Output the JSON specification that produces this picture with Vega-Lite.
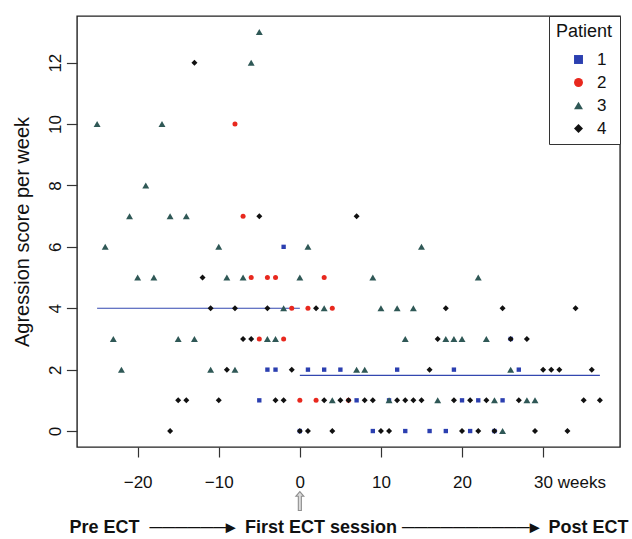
{
  "$schema": "https://vega.github.io/schema/vega-lite/v6.json",
  "width": 543,
  "height": 431,
  "autosize": "none",
  "padding": {"left": 77, "top": 16, "right": 12, "bottom": 92},
  "config": {
    "view": {"stroke": "#222222", "strokeWidth": 1.4},
    "font": "Liberation Sans",
    "axis": {"grid": false, "domain": false, "tickColor": "#333333", "tickWidth": 1.2, "labelColor": "#111111", "titleColor": "#111111", "labelFont": "Liberation Sans", "titleFont": "Liberation Sans"}
  },
  "datasets": {
    "scores": [
      {"patient": 1, "week": -5, "score": 1}, {"patient": 1, "week": -4, "score": 2}, {"patient": 1, "week": -3, "score": 2}, {"patient": 1, "week": -2, "score": 6},
      {"patient": 1, "week": 0, "score": 0}, {"patient": 1, "week": 1, "score": 2}, {"patient": 1, "week": 3, "score": 2}, {"patient": 1, "week": 5, "score": 2},
      {"patient": 1, "week": 7, "score": 1}, {"patient": 1, "week": 9, "score": 0}, {"patient": 1, "week": 11, "score": 1}, {"patient": 1, "week": 12, "score": 2},
      {"patient": 1, "week": 13, "score": 0}, {"patient": 1, "week": 16, "score": 0}, {"patient": 1, "week": 18, "score": 0}, {"patient": 1, "week": 19, "score": 2},
      {"patient": 1, "week": 20, "score": 1}, {"patient": 1, "week": 21, "score": 0}, {"patient": 1, "week": 22, "score": 1}, {"patient": 1, "week": 24, "score": 0},
      {"patient": 1, "week": 25, "score": 1}, {"patient": 1, "week": 26, "score": 3}, {"patient": 1, "week": 27, "score": 2},
      {"patient": 2, "week": -8, "score": 10}, {"patient": 2, "week": -7, "score": 7}, {"patient": 2, "week": -6, "score": 5}, {"patient": 2, "week": -5, "score": 3},
      {"patient": 2, "week": -4, "score": 5}, {"patient": 2, "week": -3, "score": 5}, {"patient": 2, "week": -2, "score": 3}, {"patient": 2, "week": -1, "score": 4},
      {"patient": 2, "week": 0, "score": 1}, {"patient": 2, "week": 1, "score": 4}, {"patient": 2, "week": 2, "score": 1}, {"patient": 2, "week": 3, "score": 5},
      {"patient": 2, "week": 4, "score": 4}, {"patient": 2, "week": 6, "score": 1},
      {"patient": 3, "week": -25, "score": 10}, {"patient": 3, "week": -24, "score": 6}, {"patient": 3, "week": -23, "score": 3}, {"patient": 3, "week": -22, "score": 2},
      {"patient": 3, "week": -21, "score": 7}, {"patient": 3, "week": -20, "score": 5}, {"patient": 3, "week": -19, "score": 8}, {"patient": 3, "week": -18, "score": 5},
      {"patient": 3, "week": -17, "score": 10}, {"patient": 3, "week": -16, "score": 7}, {"patient": 3, "week": -15, "score": 3}, {"patient": 3, "week": -14, "score": 7},
      {"patient": 3, "week": -13, "score": 3}, {"patient": 3, "week": -11, "score": 2}, {"patient": 3, "week": -10, "score": 6}, {"patient": 3, "week": -9, "score": 5},
      {"patient": 3, "week": -8, "score": 2}, {"patient": 3, "week": -7, "score": 5}, {"patient": 3, "week": -6, "score": 12}, {"patient": 3, "week": -5, "score": 13},
      {"patient": 3, "week": -4, "score": 3}, {"patient": 3, "week": -3, "score": 3}, {"patient": 3, "week": -2, "score": 4}, {"patient": 3, "week": 0, "score": 5},
      {"patient": 3, "week": 1, "score": 6}, {"patient": 3, "week": 3, "score": 4}, {"patient": 3, "week": 4, "score": 1}, {"patient": 3, "week": 7, "score": 2},
      {"patient": 3, "week": 8, "score": 2}, {"patient": 3, "week": 9, "score": 5}, {"patient": 3, "week": 10, "score": 4}, {"patient": 3, "week": 11, "score": 1},
      {"patient": 3, "week": 12, "score": 4}, {"patient": 3, "week": 13, "score": 3}, {"patient": 3, "week": 14, "score": 4}, {"patient": 3, "week": 15, "score": 6},
      {"patient": 3, "week": 17, "score": 1}, {"patient": 3, "week": 18, "score": 3}, {"patient": 3, "week": 19, "score": 3}, {"patient": 3, "week": 20, "score": 3},
      {"patient": 3, "week": 22, "score": 5}, {"patient": 3, "week": 23, "score": 3}, {"patient": 3, "week": 24, "score": 1}, {"patient": 3, "week": 25, "score": 0},
      {"patient": 3, "week": 26, "score": 2}, {"patient": 3, "week": 28, "score": 1}, {"patient": 3, "week": 29, "score": 1},
      {"patient": 4, "week": -16, "score": 0}, {"patient": 4, "week": -15, "score": 1}, {"patient": 4, "week": -14, "score": 1}, {"patient": 4, "week": -13, "score": 12},
      {"patient": 4, "week": -12, "score": 5}, {"patient": 4, "week": -11, "score": 4}, {"patient": 4, "week": -10, "score": 1}, {"patient": 4, "week": -9, "score": 2},
      {"patient": 4, "week": -8, "score": 4}, {"patient": 4, "week": -7, "score": 3}, {"patient": 4, "week": -6, "score": 3}, {"patient": 4, "week": -5, "score": 7},
      {"patient": 4, "week": -4, "score": 4}, {"patient": 4, "week": -3, "score": 1}, {"patient": 4, "week": -2, "score": 1}, {"patient": 4, "week": -1, "score": 2},
      {"patient": 4, "week": 0, "score": 0}, {"patient": 4, "week": 1, "score": 0}, {"patient": 4, "week": 2, "score": 4}, {"patient": 4, "week": 3, "score": 1},
      {"patient": 4, "week": 4, "score": 0}, {"patient": 4, "week": 5, "score": 1}, {"patient": 4, "week": 6, "score": 1}, {"patient": 4, "week": 7, "score": 7},
      {"patient": 4, "week": 8, "score": 1}, {"patient": 4, "week": 9, "score": 1}, {"patient": 4, "week": 10, "score": 0}, {"patient": 4, "week": 11, "score": 0},
      {"patient": 4, "week": 12, "score": 1}, {"patient": 4, "week": 13, "score": 1}, {"patient": 4, "week": 14, "score": 1}, {"patient": 4, "week": 15, "score": 1},
      {"patient": 4, "week": 16, "score": 2}, {"patient": 4, "week": 17, "score": 3}, {"patient": 4, "week": 18, "score": 4}, {"patient": 4, "week": 19, "score": 1},
      {"patient": 4, "week": 20, "score": 0}, {"patient": 4, "week": 21, "score": 1}, {"patient": 4, "week": 22, "score": 0}, {"patient": 4, "week": 23, "score": 1},
      {"patient": 4, "week": 24, "score": 0}, {"patient": 4, "week": 25, "score": 4}, {"patient": 4, "week": 26, "score": 3}, {"patient": 4, "week": 27, "score": 1},
      {"patient": 4, "week": 28, "score": 3}, {"patient": 4, "week": 29, "score": 0}, {"patient": 4, "week": 30, "score": 2}, {"patient": 4, "week": 31, "score": 2},
      {"patient": 4, "week": 32, "score": 2}, {"patient": 4, "week": 33, "score": 0}, {"patient": 4, "week": 34, "score": 4}, {"patient": 4, "week": 35, "score": 1},
      {"patient": 4, "week": 36, "score": 2}, {"patient": 4, "week": 37, "score": 1}
    ],
    "means": [
      {"period": "Pre ECT", "start": -25, "end": 0, "mean": 4.0},
      {"period": "Post ECT", "start": 0, "end": 37, "mean": 1.81}
    ],
    "events": [
      {"event": "First ECT session", "week": 0}
    ]
  },
  "layer": [
    {
      "data": {"name": "means"},
      "mark": {"type": "rule", "color": "#3347b0", "strokeWidth": 1.2},
      "encoding": {
        "x": {"field": "start", "type": "quantitative", "scale": {"domain": [-27.48, 39.48], "nice": false, "zero": false}},
        "x2": {"field": "end"},
        "y": {"field": "mean", "type": "quantitative", "scale": {"domain": [-0.52, 13.52], "nice": false, "zero": false}}
      }
    },
    {
      "data": {"name": "scores"},
      "mark": {"type": "point", "filled": true, "opacity": 1},
      "encoding": {
        "x": {
          "field": "week", "type": "quantitative",
          "scale": {"domain": [-27.48, 39.48], "nice": false, "zero": false},
          "axis": {
            "values": [-20, -10, 0, 10, 20, 30],
            "tickSize": 10,
            "labelFontSize": 17,
            "labelPadding": 17,
            "labelFlush": false,
            "labelExpr": "datum.value == 30 ? '30 weeks' : datum.label",
            "labelAlign": {"condition": {"test": "datum.value == 30", "value": "left"}, "value": "center"},
            "labelOffset": {"condition": {"test": "datum.value == 30", "value": -9.5}, "value": 0},
            "title": "Pre ECT\u00a0 \u2500\u2500\u2500\u2500\u2500\u2500\u25b8\u00a0 First ECT session \u2500\u2500\u2500\u2500\u2500\u2500\u2500\u2500\u2500\u2500\u25b8\u00a0 Post ECT",
            "titleFontSize": 18,
            "titleFontWeight": "bold",
            "titlePadding": 28
          }
        },
        "y": {
          "field": "score", "type": "quantitative",
          "scale": {"domain": [-0.52, 13.52], "nice": false, "zero": false},
          "axis": {
            "values": [0, 2, 4, 6, 8, 10, 12],
            "tickSize": 10.6,
            "labelFontSize": 17,
            "labelAngle": -90,
            "labelAlign": "center",
            "labelBaseline": "alphabetic",
            "labelPadding": 6,
            "title": "Agression score per week",
            "titleFontSize": 20,
            "titleFontWeight": "normal",
            "titlePadding": 14
          }
        },
        "color": {
          "field": "patient", "type": "nominal",
          "scale": {"domain": [1, 2, 3, 4], "range": ["#2b3fb0", "#e8281e", "#2f5856", "#111111"]},
          "legend": {
            "orient": "top-right", "offset": 0, "title": "Patient",
            "titleFontSize": 18, "titleFontWeight": "normal", "titleColor": "#111111",
            "labelFontSize": 17, "labelColor": "#111111",
            "symbolSize": 80, "symbolOffset": 14, "labelOffset": 10,
            "padding": 7, "rowPadding": 5, "titlePadding": 10,
            "strokeColor": "#333333", "fillColor": "white"
          }
        },
        "shape": {
          "field": "patient", "type": "nominal",
          "scale": {"domain": [1, 2, 3, 4], "range": ["square", "circle", "triangle-up", "diamond"]}
        },
        "size": {
          "condition": [
            {"test": "datum.patient === 1", "value": 19},
            {"test": "datum.patient === 3", "value": 48},
            {"test": "datum.patient === 4", "value": 36}
          ],
          "value": 25
        }
      }
    },
    {
      "data": {"name": "events"},
      "mark": {
        "type": "point", "filled": true, "fill": "#dcdcdc", "stroke": "#8f8f8f", "strokeWidth": 1.1,
        "shape": "M0,-1L-0.42,-0.5L-0.16,-0.5L-0.16,1L0.16,1L0.16,-0.5L0.42,-0.5Z",
        "size": 361, "opacity": 1
      },
      "encoding": {
        "x": {"field": "week", "type": "quantitative", "scale": {"domain": [-27.48, 39.48], "nice": false, "zero": false}},
        "y": {"datum": -2.28, "type": "quantitative", "scale": {"domain": [-0.52, 13.52], "nice": false, "zero": false}}
      }
    }
  ]
}
